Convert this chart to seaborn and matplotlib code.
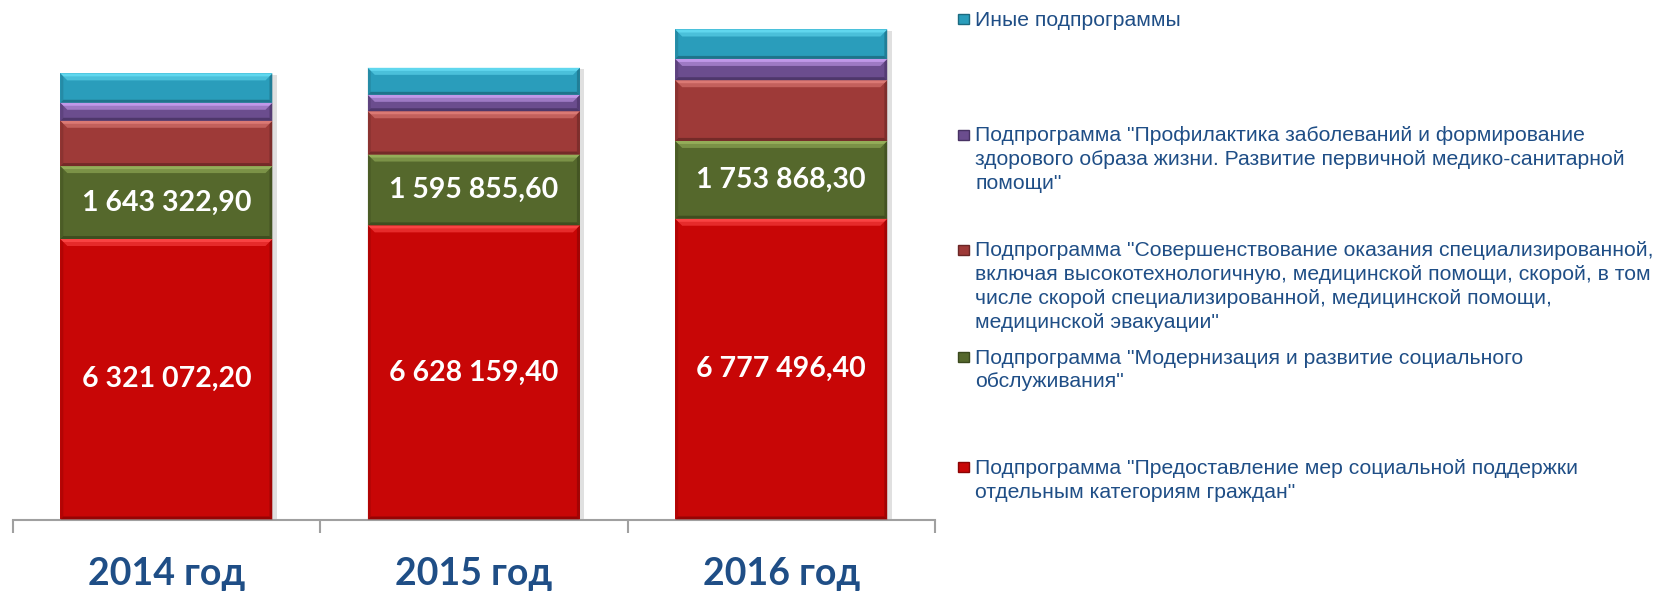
import numpy as np
import pandas as pd
import matplotlib
matplotlib.use("Agg")
import matplotlib.pyplot as plt
import matplotlib.patheffects as pe
from matplotlib.patches import Polygon, Rectangle
import seaborn as sns

# ---------------- data ----------------
years = ["2014 год", "2015 год", "2016 год"]
social_support = [6321072.20, 6628159.40, 6777496.40]      # red
social_service = [1643322.90, 1595855.60, 1753868.30]      # green
specialized_care = [1021000.0, 976000.0, 1368000.0]         # brown-red
prevention = [406000.0, 370000.0, 480000.0]                 # purple
other_programs = [662000.0, 608000.0, 663000.0]             # cyan

legend_labels = [
    ["Иные подпрограммы"],
    ['Подпрограмма "Профилактика заболеваний и формирование',
     'здорового образа жизни. Развитие первичной медико-санитарной',
     'помощи"'],
    ['Подпрограмма "Совершенствование оказания специализированной,',
     'включая высокотехнологичную, медицинской помощи, скорой, в том',
     'числе скорой специализированной, медицинской помощи,',
     'медицинской эвакуации"'],
    ['Подпрограмма "Модернизация и развитие социального',
     'обслуживания"'],
    ['Подпрограмма "Предоставление мер социальной поддержки',
     'отдельным категориям граждан"'],
]

# ---------------- style ----------------
sns.set_theme(style="white")
plt.rcParams["font.family"] = ["Liberation Sans", "DejaVu Sans"]

W, H = 1661, 591
fig = plt.figure(figsize=(W / 100, H / 100), dpi=100)
ax_left, ax_right, ax_base = 12.7, 935.0, 519.5
ax = fig.add_axes([ax_left / W, (H - ax_base) / H, (ax_right - ax_left) / W, ax_base / H])

px_per_val = 1.0 / 22535.0
ymax = ax_base / px_per_val

# series from bottom to top
series = [social_support, social_service, specialized_care, prevention, other_programs]
main_c = ["#C80606", "#55682C", "#9E3A38", "#6B4D8E", "#2A9DBB"]
light_c = ["#FF4A4A", "#9BB55E", "#E2807B", "#C9A0F2", "#66DDF4"]
dark_c = ["#8A0303", "#3A481D", "#6A2625", "#473263", "#1C6A80"]

cum = np.cumsum(np.array(series), axis=0)
bar_w = 0.69

# draw layered cumulative bars, tallest first
n = len(series)
for k in range(n - 1, -1, -1):
    df = pd.DataFrame({"year": years, "val": cum[k]})
    sns.barplot(data=df, x="year", y="val", color=main_c[k], saturation=1,
                width=bar_w, ax=ax, linewidth=0, zorder=2)

# soft shadow on the outer (tallest) bars
for p in ax.patches[:3]:
    p.set_path_effects([pe.SimplePatchShadow(offset=(3, -1), shadow_rgbFace="#9A9A9A", alpha=0.3),
                        pe.Normal()])

ax.set_xlim(-0.5, 2.5)
ax.set_ylim(0, ymax)

# bevel effects for each segment
xpx = (ax_right - ax_left) / 3.0
ypx = 1.0 / px_per_val


def dxy(px):
    return px / xpx, px * ypx


for k in range(n):
    for i in range(3):
        x0 = i - bar_w / 2
        x1 = i + bar_w / 2
        y1 = cum[k][i]
        y0 = y1 - series[k][i]
        # top highlight (two-step gradient)
        dx, dy = dxy(7)
        ax.add_patch(Polygon([(x0, y1), (x1, y1), (x1 - dx, y1 - dy), (x0 + dx, y1 - dy)],
                             closed=True, fc=light_c[k], ec="none", alpha=0.55, zorder=3))
        dx2, dy2 = dxy(3)
        ax.add_patch(Polygon([(x0, y1), (x1, y1), (x1 - dx2, y1 - dy2), (x0 + dx2, y1 - dy2)],
                             closed=True, fc=light_c[k], ec="none", alpha=0.8, zorder=3))
        # bottom dark
        bx, by = dxy(3)
        ax.add_patch(Polygon([(x0, y0), (x1, y0), (x1 - bx, y0 + by), (x0 + bx, y0 + by)],
                             closed=True, fc=dark_c[k], ec="none", alpha=0.8, zorder=3))
        # sides
        sx, sy = dxy(3)
        ax.add_patch(Polygon([(x0, y0), (x0 + sx, y0 + sy), (x0 + sx, y1 - sy), (x0, y1)],
                             closed=True, fc=dark_c[k], ec="none", alpha=0.35, zorder=3))
        ax.add_patch(Polygon([(x1, y0), (x1 - sx, y0 + sy), (x1 - sx, y1 - sy), (x1, y1)],
                             closed=True, fc=dark_c[k], ec="none", alpha=0.6, zorder=3))


def fmt(v):
    s = f"{v:,.2f}"
    return s.replace(",", " ").replace(".", ",")


# value labels on red and green segments
for k in (0, 1):
    for i in range(3):
        yc = cum[k][i] - series[k][i] / 2
        ax.text(i, yc, fmt(series[k][i]), ha="center", va="center", color="white",
                fontsize=20.5, fontweight="bold", family=["Lato", "DejaVu Sans"], zorder=5)

# axes styling
for s in ["top", "left", "right"]:
    ax.spines[s].set_visible(False)
ax.spines["bottom"].set_color("#A0A0A0")
ax.spines["bottom"].set_linewidth(1.5)
ax.set_yticks([])
ax.set_xlabel("")
ax.set_ylabel("")
ax.set_xticks([0, 1, 2])
ax.set_xticklabels(years)
ax.tick_params(axis="x", which="major", length=0, pad=27, labelsize=27,
               labelcolor="#1F4E86")
for lbl in ax.get_xticklabels():
    lbl.set_fontweight("bold")
    lbl.set_family(["Lato", "DejaVu Sans"])
ax.set_xticks([-0.5, 0.5, 1.5, 2.5], minor=True)
ax.tick_params(axis="x", which="minor", bottom=True, length=9, width=1.5,
               color="#A0A0A0", direction="out")
ax.patch.set_alpha(0)

# legend (manual, to match spacing)
text_x = 975
mark_x = 958
line_gap = 23.8
baselines = [25.6, 141.0, 256.5, 363.5, 473.7]
legend_colors = [main_c[4], main_c[3], main_c[2], main_c[1], main_c[0]]
legend_dark = [dark_c[4], dark_c[3], dark_c[2], dark_c[1], dark_c[0]]
for lines, b, c, d in zip(legend_labels, baselines, legend_colors, legend_dark):
    for j, line in enumerate(lines):
        fig.text(text_x / W, 1 - (b + j * line_gap) / H, line, ha="left", va="baseline",
                 fontsize=15.2, color="#1F4E86")
    fig.add_artist(Rectangle((mark_x / W, 1 - (b - 1.5) / H), 11 / W, 10 / H,
                             transform=fig.transFigure, fc=c, ec=d, lw=1.0))

fig.savefig("out.png", dpi=100, facecolor="white")
